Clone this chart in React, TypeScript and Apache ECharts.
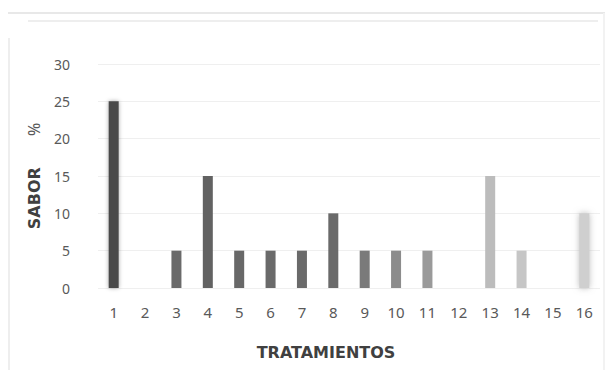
import React, { useEffect, useRef } from "react";
import * as echarts from "echarts";

const categories = ["1", "2", "3", "4", "5", "6", "7", "8", "9", "10", "11", "12", "13", "14", "15", "16"];
const values = [25, 0, 5, 15, 5, 5, 5, 10, 5, 5, 5, 0, 15, 5, 0, 10];
const barColors = ["#4a4a4a", "#5c5c5c", "#6a6a6a", "#626262", "#686868", "#6a6a6a", "#6a6a6a", "#6a6a6a", "#7a7a7a", "#8c8c8c", "#9a9a9a", "#aaaaaa", "#bcbcbc", "#c6c6c6", "#cccccc", "#cfcfcf"];
const yTicks = [0, 5, 10, 15, 20, 25, 30];

export default function App() {
  const ref = useRef<HTMLDivElement>(null);
  useEffect(() => {
    if (!ref.current) return;
    const chart = echarts.init(ref.current, null, { renderer: "svg" });
    const data = values.map((v, i) => ({
      value: v,
      itemStyle: {
        color: barColors[i],
        shadowBlur: i === 0 ? 4 : i === 15 ? 6 : 0,
        shadowColor: i === 0 ? "rgba(0,0,0,0.35)" : i === 15 ? "rgba(180,180,180,0.9)" : "transparent",
      },
    }));
    chart.setOption({
      animation: false,
      backgroundColor: "#ffffff",
      graphic: [
        { type: "line", shape: { x1: 8, y1: 13, x2: 605, y2: 13 }, style: { stroke: "#e8e8e8", lineWidth: 2 } },
        { type: "line", shape: { x1: 28, y1: 21, x2: 598, y2: 21 }, style: { stroke: "#eeeeee", lineWidth: 2 } },
        { type: "line", shape: { x1: 9, y1: 38, x2: 9, y2: 370 }, style: { stroke: "#eeeeee", lineWidth: 2 } },
        { type: "line", shape: { x1: 604, y1: 13, x2: 604, y2: 370 }, style: { stroke: "#f2f2f2", lineWidth: 2 } },
      ],
      grid: { left: 98, right: 13, top: 64, bottom: 87 },
      xAxis: {
        type: "category",
        data: categories,
        axisLine: { show: false },
        axisTick: { show: false },
        axisLabel: { color: "#595959", fontSize: 15, fontFamily: "Noto Sans", margin: 16 },
        name: "TRATAMIENTOS",
        nameLocation: "middle",
        nameGap: 56,
        nameTextStyle: { color: "#404040", fontSize: 16, fontWeight: "bold", fontFamily: "DejaVu Sans", padding: [0, 46, 0, 0] },
      },
      yAxis: {
        type: "value",
        min: 0,
        max: 30,
        interval: 5,
        axisLine: { show: false },
        axisTick: { show: false },
        splitLine: { lineStyle: { color: "#efefef", width: 1 } },
        axisLabel: { color: "#595959", fontSize: 14, fontFamily: "Noto Sans", margin: 28, formatter: (v: number) => (yTicks.includes(v) ? String(v) : "") },
        name: "{b|SABOR}{s|        }{p|%}",
        nameLocation: "middle",
        nameRotate: 90,
        nameGap: 56,
        nameTextStyle: {
          rich: {
            b: { color: "#404040", fontSize: 16, fontWeight: "bold", fontFamily: "DejaVu Sans" },
            s: { fontSize: 14 },
            p: { color: "#595959", fontSize: 16, fontFamily: "Noto Sans" },
          },
        },
      },
      series: [
        {
          type: "bar",
          data,
          barWidth: 10,
        },
      ],
    });
    return () => chart.dispose();
  }, []);
  return <div ref={ref} style={{ position: "fixed", left: 0, top: 0, width: 613, height: 375 }} />;
}
